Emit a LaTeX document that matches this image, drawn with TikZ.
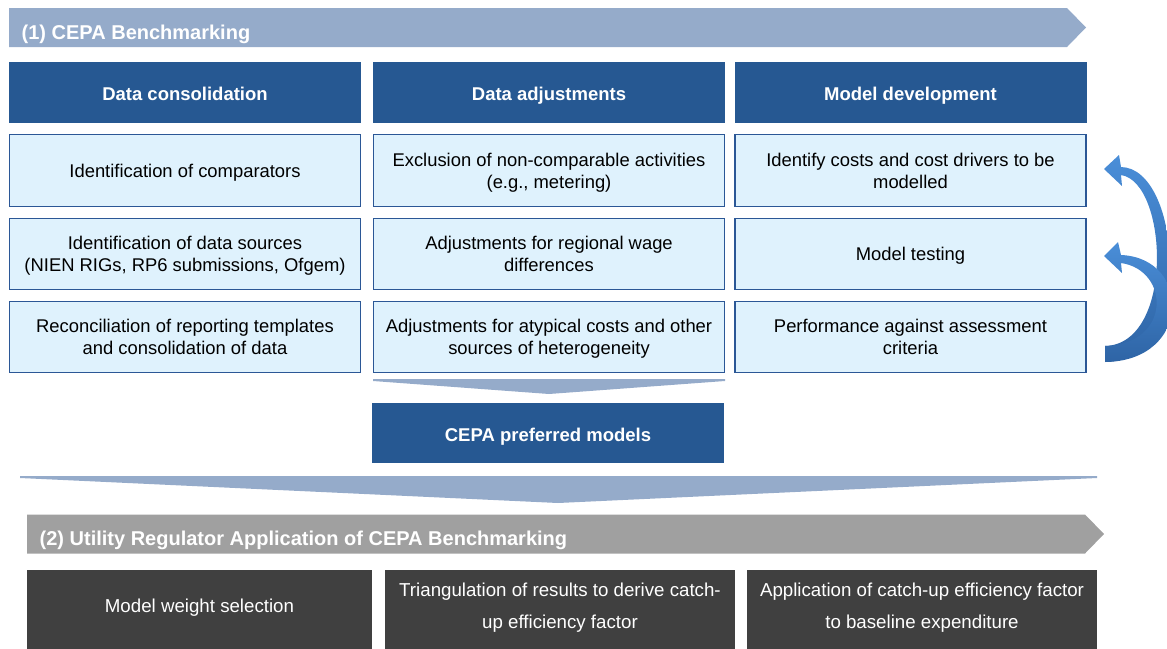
\documentclass[tikz,border=0pt]{standalone}
\usepackage{fontspec}
\setmainfont{Liberation Sans}
\definecolor{bannerblue}{RGB}{149,171,202}
\definecolor{hdrblue}{RGB}{38,88,146}
\definecolor{cellfill}{RGB}{223,242,253}
\definecolor{cellline}{RGB}{43,87,150}
\definecolor{bannergrey}{RGB}{160,160,160}
\definecolor{darkbox}{RGB}{64,64,64}
\definecolor{arrowlt}{RGB}{74,142,216}
\definecolor{arrowdk}{RGB}{46,100,165}
% centred block of lines, lowered/raised without changing its box
\newcommand\boxtext[2]{\raisebox{#1}[\height][\depth]{\begin{tabular}{@{}c@{}}#2\end{tabular}}}
\begin{document}
\begin{tikzpicture}[x=1pt,y=-1pt,
  title/.style={anchor=base west, text=white, inner sep=0pt,
    font=\fontsize{20}{24}\selectfont\bfseries},
  header/.style={fill=hdrblue, text=white, inner sep=0pt,
    minimum width=352pt, minimum height=60.5pt,
    font=\fontsize{18.5}{22}\selectfont\bfseries},
  cell/.style={fill=cellfill, draw=cellline, line width=1.3pt, inner sep=0pt,
    minimum width=351pt, minimum height=71.5pt,
    font=\fontsize{18.4}{22}\selectfont},
  darkcell/.style={fill=darkbox, text=white, inner sep=0pt,
    minimum height=90pt, font=\fontsize{18.7}{31.6}\selectfont},
  chevron/.style={fill=bannerblue},
  loop arrow/.style={top color=arrowlt, bottom color=arrowdk, draw=none}
]
\useasboundingbox (0,0) rectangle (1167,648);

% ---- stage 1 banner
\fill[bannerblue] (9,8) -- (1067,8) -- (1086,27.5) -- (1067,47) -- (9,47) -- cycle;
\node[title] (t1) at (21.5,39.5) {(1) CEPA Benchmarking};

% ---- column headers
\node[header] (h1) at (185,92.4) {\boxtext{-3.8pt}{Data consolidation}};
\node[header] (h2) at (549,92.4) {\boxtext{-3.8pt}{Data adjustments}};
\node[header] (h3) at (910.5,92.4) {\boxtext{-3.8pt}{Model development}};

% ---- column cells
\node[cell] (c11) at (185,170.5) {\boxtext{-2.2pt}{Identification of comparators}};
\node[cell] (c12) at (185,254) {\boxtext{-2.2pt}{Identification of data sources\\(NIEN RIGs, RP6 submissions, Ofgem)}};
\node[cell] (c13) at (185,337) {\boxtext{-2.2pt}{Reconciliation of reporting templates\\and consolidation of data}};

\node[cell] (c21) at (549,170.5) {\boxtext{-2.2pt}{Exclusion of non-comparable activities\\(e.g., metering)}};
\node[cell] (c22) at (549,254) {\boxtext{-2.2pt}{Adjustments for regional wage\\differences}};
\node[cell] (c23) at (549,337) {\boxtext{-2.2pt}{Adjustments for atypical costs and other\\sources of heterogeneity}};

\node[cell] (c31) at (910.5,170.5) {\boxtext{-2.2pt}{Identify costs and cost drivers to be\\modelled}};
\node[cell] (c32) at (910.5,254) {\boxtext{-2.2pt}{Model testing}};
\node[cell] (c33) at (910.5,337) {\boxtext{-2.2pt}{Performance against assessment\\criteria}};

% ---- funnel into preferred models
\fill[chevron] (373,379) -- (725,379) -- (725,381) -- (549,394) -- (373,381) -- cycle;
\node[header] (pm) at (548,433) {\boxtext{-4pt}{CEPA preferred models}};

% ---- wide funnel into stage 2
\fill[chevron] (20,476) -- (1097,476) -- (1097,478) -- (558,503) -- (20,478) -- cycle;

% ---- feedback loops on model development
\shade[loop arrow] (1105,346) .. controls (1175,344) and (1168,182) .. (1121,175)
  -- (1122,186) -- (1104,169) -- (1119,155) -- (1121,167)
  .. controls (1182,168) and (1195,361) .. (1105,362) -- cycle;
\shade[loop arrow] (1105,346) .. controls (1172,344) and (1170,270) .. (1121,263)
  -- (1122,273) -- (1104,256) -- (1118,242) -- (1121,255)
  .. controls (1192,258) and (1192,361) .. (1105,362) -- cycle;

% ---- stage 2 banner
\fill[bannergrey] (27,514.5) -- (1085,514.5) -- (1104,534) -- (1085,553.5) -- (27,553.5) -- cycle;
\node[title] (t2) at (39.5,545.7) {(2) Utility Regulator Application of CEPA Benchmarking};

% ---- stage 2 steps
\node[darkcell, minimum width=345pt] (d1) at (199.5,615) {\boxtext{8.6pt}{Model weight selection}};
\node[darkcell, minimum width=350pt] (d2) at (560,615) {\boxtext{8.6pt}{Triangulation of results to derive catch-\\up efficiency factor}};
\node[darkcell, minimum width=350pt] (d3) at (922,615) {\boxtext{8.6pt}{Application of catch-up efficiency factor\\to baseline expenditure}};
\end{tikzpicture}
\end{document}
